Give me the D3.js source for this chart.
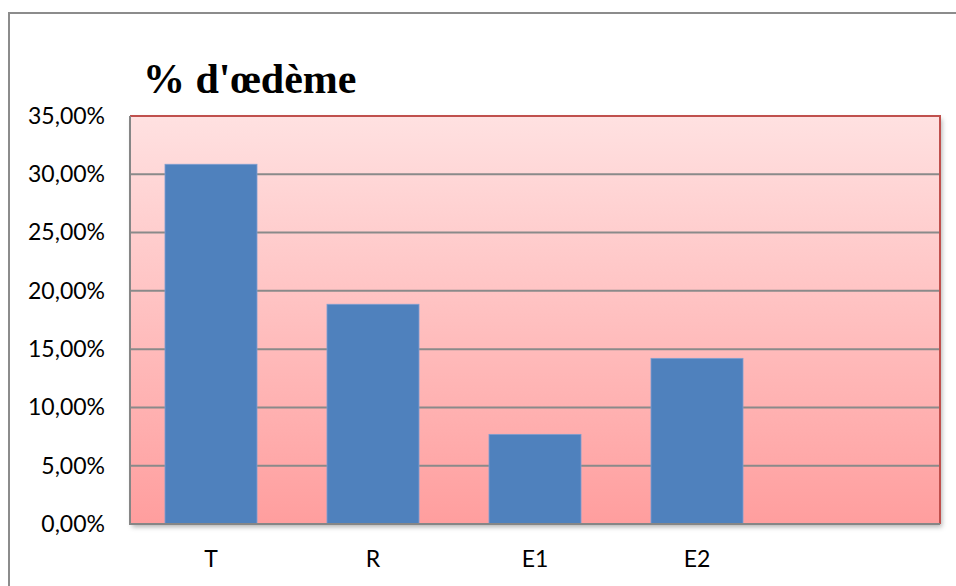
<!DOCTYPE html>
<html>
<head>
<meta charset="utf-8">
<script src="https://cdn.jsdelivr.net/npm/d3@7"></script>
<style>
html,body{margin:0;padding:0;background:#fff;}
svg{display:block;}
</style>
</head>
<body>
<svg id="chart" width="956" height="586"></svg>
<script>
const title = "% d'œdème";
const categories = ["T", "R", "E1", "E2", ""];
const values = [30.86, 18.85, 7.69, 14.21, null];
const yTicks = [0, 5, 10, 15, 20, 25, 30, 35];

const svg = d3.select("#chart");
const W = 956, H = 586;
const m = {left: 130, right: 16, top: 116, bottom: 62};
const pw = W - m.left - m.right, ph = H - m.top - m.bottom;

const defs = svg.append("defs");
const grad = defs.append("linearGradient").attr("id", "bg").attr("x1", 0).attr("y1", 0).attr("x2", 0).attr("y2", 1);
grad.append("stop").attr("offset", "0%").attr("stop-color", "#ffe1e1");
grad.append("stop").attr("offset", "100%").attr("stop-color", "#ff9e9e");
const f = defs.append("filter").attr("id", "sh").attr("x", "-5%").attr("y", "-5%").attr("width", "110%").attr("height", "115%");
f.append("feDropShadow").attr("dx", 2).attr("dy", 3).attr("stdDeviation", 2.5).attr("flood-color", "#000").attr("flood-opacity", 0.3);

// outer chart border
svg.append("path").attr("d", `M9,${H + 2} L9,13 L${W + 2},13`).attr("fill", "none").attr("stroke", "#8c8c8c").attr("stroke-width", 2);

const x = d3.scaleBand().domain(categories).range([m.left, m.left + pw]).paddingInner(0.432).paddingOuter(0.216);
const y = d3.scaleLinear().domain([0, 35]).range([m.top + ph, m.top]);

const g = svg.append("g");
g.append("rect").attr("x", m.left).attr("y", m.top).attr("width", pw).attr("height", ph)
  .attr("fill", "url(#bg)").attr("filter", "url(#sh)");

// gridlines
g.selectAll(".grid").data(yTicks.filter(d => d > 0 && d < 35)).enter().append("line")
  .attr("x1", m.left).attr("x2", m.left + pw).attr("y1", d => y(d)).attr("y2", d => y(d))
  .attr("stroke", "#8a8a8a").attr("stroke-width", 2);

// border: top/right red
g.append("path").attr("d", `M${m.left},${m.top} L${m.left + pw},${m.top} L${m.left + pw},${m.top + ph}`)
  .attr("fill", "none").attr("stroke", "#c0504d").attr("stroke-width", 2);

// bars
const data = categories.map((c, i) => ({c, v: values[i]})).filter(d => d.v != null);
g.selectAll(".bar").data(data).enter().append("rect")
  .attr("x", d => x(d.c)).attr("width", x.bandwidth())
  .attr("y", d => y(d.v)).attr("height", d => y(0) - y(d.v))
  .attr("fill", "#4f81bd").attr("stroke", "#7f9fd0").attr("stroke-width", 0.8);

// axes lines (gray)
g.append("line").attr("x1", m.left).attr("x2", m.left).attr("y1", m.top).attr("y2", m.top + ph + 1)
  .attr("stroke", "#868686").attr("stroke-width", 2);
g.append("line").attr("x1", m.left - 1).attr("x2", m.left + pw).attr("y1", m.top + ph).attr("y2", m.top + ph)
  .attr("stroke", "#868686").attr("stroke-width", 2);

const fontFam = "Lato, 'Open Sans', sans-serif";
// y axis labels
const yAxis = d3.axisLeft(y).tickValues(yTicks).tickSize(0).tickPadding(25)
  .tickFormat(d => d3.format(".2f")(d).replace(".", ",") + "%");
const ya = svg.append("g").attr("transform", `translate(${m.left},0)`).call(yAxis);
ya.select(".domain").remove();
ya.selectAll("text").attr("font-family", fontFam).attr("font-size", 23).attr("fill", "#000");

// x axis labels
const xAxis = d3.axisBottom(x).tickSize(0).tickPadding(27);
const xa = svg.append("g").attr("transform", `translate(0,${m.top + ph})`).call(xAxis);
xa.select(".domain").remove();
xa.selectAll("text").attr("font-family", fontFam).attr("font-size", 23).attr("fill", "#000");

// title
svg.append("text").attr("x", 143).attr("y", 93).text(title)
  .attr("font-family", "'Liberation Serif', 'Times New Roman', serif").attr("font-weight", "bold")
  .attr("font-size", 42).attr("fill", "#000");
</script>
</body>
</html>
